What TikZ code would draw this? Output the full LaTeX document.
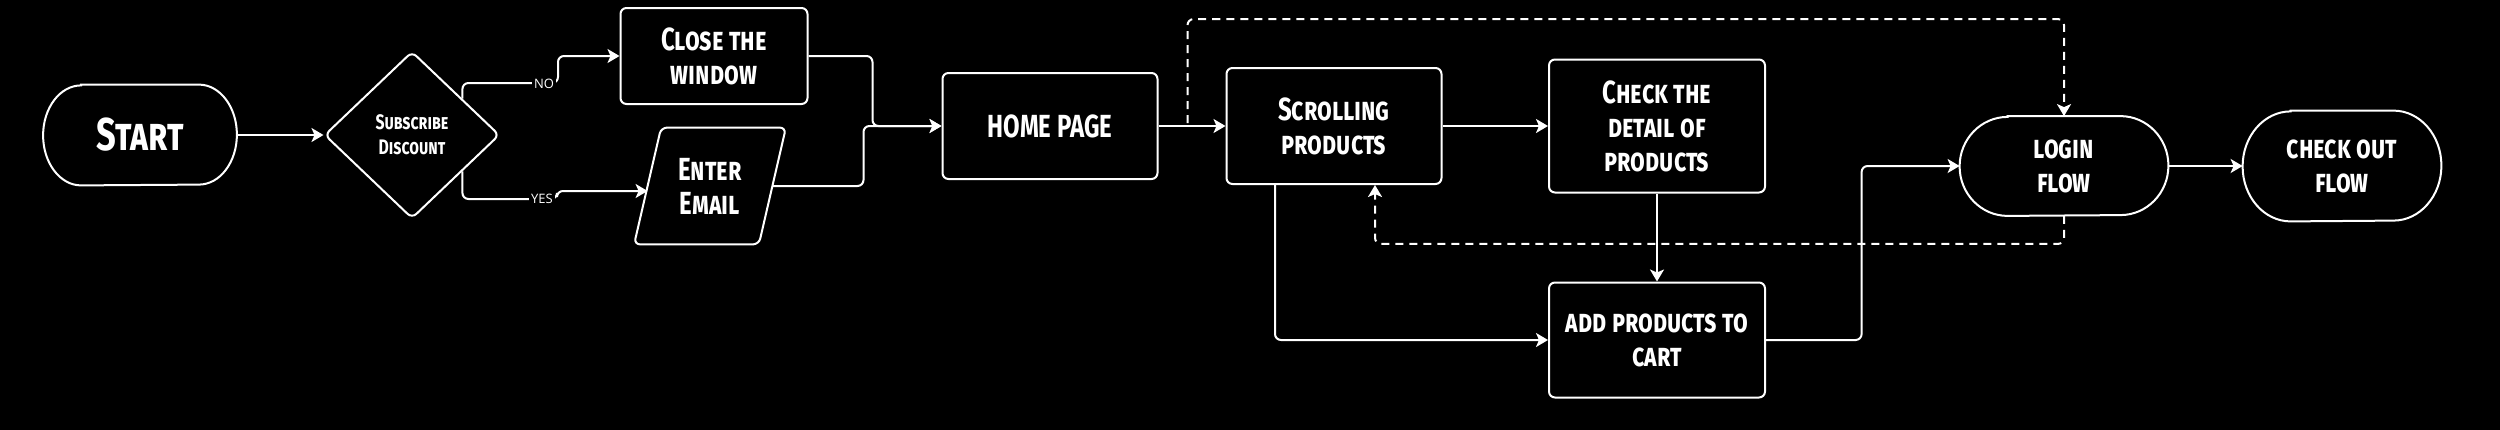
\documentclass[tikz,border=0pt]{standalone}
\usepackage{fontspec}
\usetikzlibrary{shapes.geometric,arrows.meta,calc}
\newfontfamily\hand{Fira Sans}[FakeStretch=0.75]
\newfontfamily\lblfont{Open Sans}
\newcommand\drawstadium[3]{%
  \draw[shapeline] ($(#1.north west)+(#2,0)$) -- ($(#1.north east)+(-#2,0)$)
    arc[start angle=-90,end angle=90,x radius=#2,y radius=#3]
    -- ($(#1.south west)+(#2,0)$)
    arc[start angle=90,end angle=270,x radius=#2,y radius=#3] -- cycle;}
\tikzset{
  shapeline/.style={draw=white,line width=1pt},
  txt/.style={text=white,align=center,inner sep=0pt,
    font={\hand\bfseries\scshape\fontsize{16pt}{17pt}\selectfont}},
  box/.style={txt,shapeline,rounded corners=3pt},
  ghost/.style={txt,draw=none},
  conn/.style={draw=white,line width=1pt,rounded corners=3pt},
  arr/.style={conn,-{Stealth[length=6pt,width=7pt,inset=1.5pt]}},
  darr/.style={arr,dash pattern=on 4pt off 3pt},
  lbl/.style={fill=black,text=white,inner sep=1pt,font={\lblfont\fontsize{6.5pt}{7pt}\selectfont}}
}
\begin{document}
\begin{tikzpicture}[x=0.5pt,y=-0.5pt]
\useasboundingbox (0,0) rectangle (2500,429);
\fill[black] (-20,-20) rectangle (2520,449);

% nodes
\node[ghost,minimum width=96.5pt,minimum height=50pt,
  font={\hand\bfseries\scshape\fontsize{23pt}{25pt}\selectfont}] (S) at (140,135) {Start};
\drawstadium{S}{38}{50}
\node[txt,shapeline,diamond,rounded corners=3pt,minimum width=87.5pt,minimum height=83.5pt,
  font={\hand\bfseries\scshape\fontsize{10.5pt}{12.5pt}\selectfont}] (D) at (412,135) {Subscribe\\Discount};
\node[box,minimum width=93.5pt,minimum height=48pt] (C) at (714,56) {Close the\\window};
\node[ghost,minimum width=62pt,minimum height=58pt] (E) at (710,186) {Enter\\Email};
\draw[shapeline,rounded corners=3pt] ($(E.north west)+(13.5,0)$) -- ($(E.north east)+(13.5,0)$)
  -- ($(E.south east)+(-13.5,0)$) -- ($(E.south west)+(-13.5,0)$) -- cycle;
\node[box,minimum width=107.5pt,minimum height=53pt] (H) at (1050,126) {HOME PAGE};
\node[box,minimum width=107.5pt,minimum height=58pt] (Sc) at (1334,126) {Scrolling\\products};
\node[box,minimum width=108pt,minimum height=66.5pt] (Ch) at (1657,126) {Check the\\detail of\\products};
\node[box,minimum width=108pt,minimum height=57.5pt] (A) at (1657,340) {add products to\\cart};
\node[ghost,minimum width=104pt,minimum height=49.5pt] (L) at (2064,166) {login\\flow};
\drawstadium{L}{48}{49.5}
\node[ghost,minimum width=99pt,minimum height=55pt] (Co) at (2342,166) {check out\\flow};
\drawstadium{Co}{48}{55}

% connectors
\draw[arr] (S.east) -- (D.west);
\coordinate (dno) at ($(D.north)!0.57!(D.east)$);
\coordinate (dyes) at ($(D.south)!0.57!(D.east)$);
\draw[arr] (dno) |- (558,83) |- (C.west);
\node[lbl] (no) at (544,84) {NO};
\draw[arr] (dyes) |- (557,199) |- ($(E.west)+(0,5)$);
\node[lbl] (yes) at (542,199) {YES};
\draw[arr] (C.east) -| ($(H.west)+(-69,0)$) -- (H.west);
\draw[arr] (E.east) -| ($(H.west)+(-78,0)$) -- (H.west);
\draw[arr] (H.east) -- (Sc.west);
\coordinate (dstart) at ($(H.east)+(29,-3)$);
\draw[darr] (dstart) |- ($(L.north)+(0,-97)$) -- (L.north);
\draw[arr] (Sc.east) -- (Ch.west);
\draw[arr] (Ch.south) -- (A.north);
\draw[arr] ($(Sc.south)+(-59,0)$) |- (A.west);
\draw[arr] (A.east) -| ($(L.west)+(-98,0)$) -- (L.west);
\draw[arr] (L.east) -- (Co.west);
\draw[darr] (L.south) -- ++(0,28) -| ($(Sc.south)+(41,0)$);
\end{tikzpicture}
\end{document}
